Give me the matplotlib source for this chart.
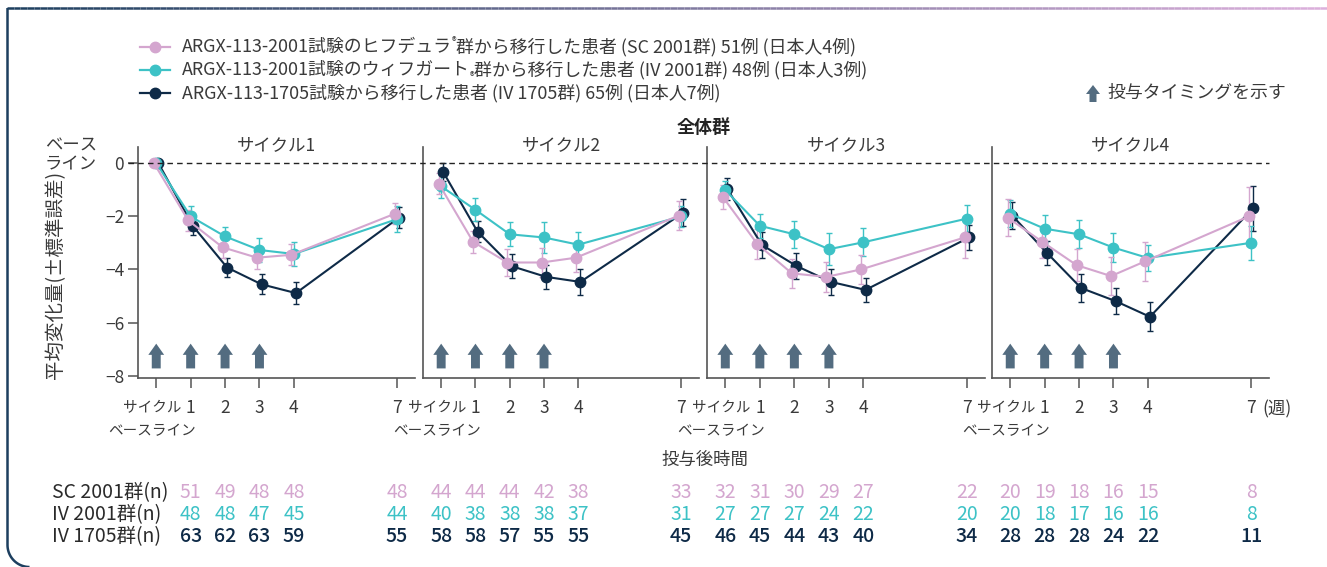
import matplotlib
matplotlib.use('Agg')
import matplotlib.pyplot as plt
import numpy as np
from matplotlib.patches import FancyArrow
from matplotlib.lines import Line2D
from matplotlib.collections import LineCollection
import matplotlib.transforms as mtransforms
from matplotlib.colors import to_rgb

plt.rcParams['font.family'] = ['Noto Sans CJK JP', 'DejaVu Sans']
plt.rcParams['axes.unicode_minus'] = True

# ---------------- data ----------------
weeks = [0, 1, 2, 3, 4, 7]
week_labels = ['', '1', '2', '3', '4', '7']
baseline_label = ['サイクル', 'ベースライン']
cycles = ['サイクル1', 'サイクル2', 'サイクル3', 'サイクル4']
dose_weeks = [0, 1, 2, 3]

sc_mean = [[0.00, -2.16, -3.17, -3.56, -3.45, -1.91],
           [-0.78, -2.96, -3.74, -3.74, -3.56, -1.98],
           [-1.28, -3.05, -4.15, -4.28, -4.00, -2.80],
           [-2.06, -2.96, -3.84, -4.25, -3.69, -2.01]]
sc_se = [[0.00, 0.38, 0.40, 0.42, 0.40, 0.40],
         [0.40, 0.42, 0.49, 0.53, 0.53, 0.54],
         [0.45, 0.56, 0.53, 0.56, 0.55, 0.78],
         [0.70, 0.60, 0.60, 0.70, 0.73, 1.12]]
iv01_mean = [[0.00, -2.01, -2.76, -3.27, -3.42, -2.11],
             [-0.88, -1.76, -2.68, -2.80, -3.07, -2.01],
             [-1.02, -2.36, -2.68, -3.24, -2.98, -2.09],
             [-1.91, -2.47, -2.68, -3.18, -3.57, -3.00]]
iv01_se = [[0.00, 0.38, 0.36, 0.44, 0.44, 0.48],
           [0.42, 0.43, 0.45, 0.60, 0.46, 0.38],
           [0.35, 0.46, 0.50, 0.60, 0.53, 0.50],
           [0.50, 0.50, 0.52, 0.53, 0.48, 0.65]]
iv17_mean = [[0.00, -2.36, -3.93, -4.56, -4.89, -2.05],
             [-0.34, -2.58, -3.88, -4.28, -4.47, -1.87],
             [-0.98, -3.08, -3.87, -4.47, -4.77, -2.80],
             [-1.98, -3.37, -4.70, -5.19, -5.78, -1.70]]
iv17_se = [[0.00, 0.36, 0.36, 0.38, 0.41, 0.40],
           [0.35, 0.40, 0.45, 0.45, 0.48, 0.50],
           [0.40, 0.48, 0.48, 0.48, 0.44, 0.48],
           [0.50, 0.45, 0.53, 0.50, 0.55, 0.85]]

n_weeks = [[1, 2, 3, 4, 7], [0, 1, 2, 3, 4, 7], [0, 1, 2, 3, 4, 7], [0, 1, 2, 3, 4, 7]]
sc_n = [[51, 49, 48, 48, 48], [44, 44, 44, 42, 38, 33], [32, 31, 30, 29, 27, 22], [20, 19, 18, 16, 15, 8]]
iv01_n = [[48, 48, 47, 45, 44], [40, 38, 38, 38, 37, 31], [27, 27, 27, 24, 22, 20], [20, 18, 17, 16, 16, 8]]
iv17_n = [[63, 62, 63, 59, 55], [58, 58, 57, 55, 55, 45], [46, 45, 44, 43, 40, 34], [28, 28, 28, 24, 22, 11]]

row_labels = ['SC 2001群(n)', 'IV 2001群(n)', 'IV 1705群(n)']

# ---------------- style ----------------
PINK = '#d4a6cf'
TEAL = '#3dc2c6'
NAVY = '#0e2a47'
ARROW = '#536c80'
TXT = '#3a3a3a'
SPINE = '#555555'

W, H = 1327, 567
fig = plt.figure(figsize=(W / 100, H / 100), dpi=100)

def fx(px):
    return px / W

def fy(py):
    return 1 - py / H

lefts = [138, 423, 707, 992]
rights = [415, 699, 985, 1269]
top_px, bot_px = 147, 378

series = [
    (iv17_mean, iv17_se, NAVY, 0.06),
    (iv01_mean, iv01_se, TEAL, 0.0),
    (sc_mean, sc_se, PINK, -0.07),
]

axes = []
for i in range(4):
    ax = fig.add_axes([fx(lefts[i]), fy(bot_px), fx(rights[i] - lefts[i]), (bot_px - top_px) / H])
    axes.append(ax)
    ax.set_xlim(-0.53, 7.52)
    ax.set_ylim(-8.08, 0.6)
    ax.patch.set_alpha(0)
    for s in ['top', 'right']:
        ax.spines[s].set_visible(False)
    for s in ['left', 'bottom']:
        ax.spines[s].set_color(SPINE)
        ax.spines[s].set_linewidth(1.2)
    ax.set_xticks(weeks)
    ax.set_xticklabels(week_labels, fontsize=12.5, color=TXT)
    ax.tick_params(axis='x', length=7, width=1.1, color=SPINE, pad=8)
    trx = mtransforms.blended_transform_factory(ax.transData, fig.transFigure)
    ax.text(weeks[0] - 0.12, fy(408), baseline_label[0], transform=trx, ha='center', va='center',
            fontsize=10.5, color=TXT, clip_on=False)
    ax.text(weeks[0] - 0.12, fy(431), baseline_label[1], transform=trx, ha='center', va='center',
            fontsize=10.5, color=TXT, clip_on=False)
    if i == 0:
        ax.set_yticks([0, -2, -4, -6, -8])
        ax.set_yticklabels(['0', '−2', '−4', '−6', '−8'], fontsize=12.5, color=TXT)
        ax.tick_params(axis='y', length=7, width=1.1, color=SPINE, pad=3)
    else:
        ax.set_yticks([])

    for mean, se, col, off in series:
        x = np.array(weeks, dtype=float) + off
        ax.errorbar(x, mean[i], yerr=se[i], fmt='-o', color=col, ms=7.5, lw=1.5,
                    elinewidth=1.0, capsize=2, capthick=1.0, ecolor=col, zorder=3)

    for dw in dose_weeks:
        ax.add_patch(FancyArrow(dw, -7.72, 0, 0.93, width=0.26, head_width=0.46,
                                head_length=0.42, length_includes_head=True,
                                color=ARROW, lw=0, zorder=2))

    ax.text(0.5, fy(145), cycles[i], transform=mtransforms.blended_transform_factory(ax.transAxes, fig.transFigure),
            ha='center', va='center', fontsize=12.5, color=TXT)

    # n table
    for vals, col, ypx, wt in [(sc_n, PINK, 493, 'normal'), (iv01_n, TEAL, 515, 'normal'),
                               (iv17_n, NAVY, 537, 'medium')]:
        for wk, v in zip(n_weeks[i], vals[i]):
            ax.text(wk, fy(ypx), str(v), transform=trx, ha='center', va='center',
                    fontsize=14, color=col, fontweight=wt, clip_on=False)

# dashed zero line across all panels
tr0 = mtransforms.blended_transform_factory(fig.transFigure, axes[0].transData)
fig.add_artist(Line2D([fx(128), fx(1269)], [0, 0], transform=tr0, color='#222222',
                      lw=1.0, linestyle=(0, (4, 3)), zorder=1))

# overlay axes in pixel coordinates
axo = fig.add_axes([0, 0, 1, 1])
axo.set_xlim(0, W)
axo.set_ylim(H, 0)
axo.axis('off')
axo.patch.set_alpha(0)

# border: left line with rounded corner
r = 22
cx, cy = 7.5 + r, 545
t = np.linspace(0, np.pi / 2, 30)
bx = np.concatenate([[7.5], cx - r * np.cos(t)])
by = np.concatenate([[8], cy + r * np.sin(t)])
axo.plot(bx, by, color='#1d3f5f', lw=1.8, solid_capstyle='butt')
# top gradient line
xs = np.linspace(7, W, 200)
segs = [[(xs[k], 8), (xs[k + 1], 8)] for k in range(len(xs) - 1)]
c0 = np.array(to_rgb('#1d3f5f'))
c1 = np.array(to_rgb('#dcb0dc'))
cols = [tuple(c0 + (c1 - c0) * (k / (len(segs) - 1))) for k in range(len(segs))]
axo.add_collection(LineCollection(segs, colors=cols, linewidths=1.8))

# legend
leg_rows = [47, 70, 93]
for (col, ypx) in zip([PINK, TEAL, NAVY], leg_rows):
    axo.plot([140, 170], [ypx, ypx], color=col, lw=1.6)
    axo.plot([155], [ypx], 'o', color=col, ms=7.5)

LFS = 12.9
t1 = axo.text(182, leg_rows[0], 'ARGX-113-2001試験のヒフデュラ', fontsize=LFS, color=TXT, va='center', ha='left')
r1 = axo.annotate('®', xy=(1, 0.8), xycoords=t1, fontsize=7, color=TXT, va='center', ha='left')
axo.annotate('群から移行した患者 (SC 2001群) 51例 (日本人4例)', xy=(1, 0.5), xycoords=(r1, t1),
             fontsize=LFS, color=TXT, va='center', ha='left')
t2 = axo.text(182, leg_rows[1], 'ARGX-113-2001試験のウィフガート', fontsize=LFS, color=TXT, va='center', ha='left')
r2 = axo.annotate('®', xy=(1, 0.1), xycoords=t2, fontsize=7, color=TXT, va='center', ha='left')
axo.annotate('群から移行した患者 (IV 2001群) 48例 (日本人3例)', xy=(1, 0.5), xycoords=(r2, t2),
             fontsize=LFS, color=TXT, va='center', ha='left')
axo.text(182, leg_rows[2], 'ARGX-113-1705試験から移行した患者 (IV 1705群) 65例 (日本人7例)',
         fontsize=LFS, color=TXT, va='center', ha='left')

# dose timing legend
axo.add_patch(FancyArrow(1093, 102, 0, -17, width=7, head_width=14, head_length=9,
                         length_includes_head=True, color=ARROW, lw=0))
axo.text(1107, 93, '投与タイミングを示す', fontsize=LFS, color=TXT, va='center', ha='left')

# titles and labels
axo.text(704, 127, '全体群', fontsize=13, fontweight='bold', color='#222222', ha='center', va='center')
axo.text(97, 155, 'ベース\nライン', fontsize=12.5, color=TXT, ha='right', va='center', linespacing=1.1)
axo.text(56, 275, '平均変化量(±標準誤差)', fontsize=14, color=TXT, ha='center', va='center', rotation=90)
axo.text(1262, 409, '(週)', fontsize=12.5, color=TXT, ha='left', va='center')
axo.text(705, 460, '投与後時間', fontsize=12.5, color=TXT, ha='center', va='center')

for lab, ypx in zip(row_labels, [493, 515, 537]):
    axo.text(52, ypx, lab, fontsize=14, color='#2a2a2a', ha='left', va='center')

fig.savefig('out.png', dpi=100)
